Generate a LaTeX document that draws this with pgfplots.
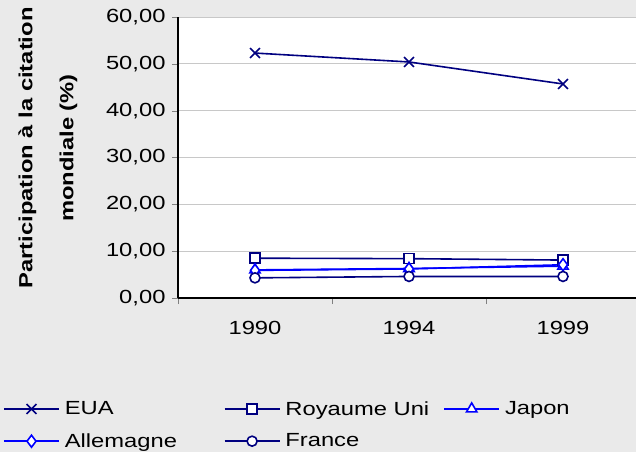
\documentclass[border=0pt]{standalone}
\usepackage{pgfplots}
\pgfplotsset{compat=1.18}
\usepackage{fontspec}
\setmainfont[FakeStretch=1.25]{Liberation Sans}
\definecolor{bg}{HTML}{EAEAEA}
\definecolor{navy}{HTML}{000080}
\definecolor{pure}{HTML}{0000FF}
\definecolor{gridc}{HTML}{C8C8C8}
\begin{document}
\begin{tikzpicture}[x=1pt,y=1pt]
\fill[bg] (0,0) rectangle (636,452);
\begin{axis}[
    at={(178pt,154pt)}, anchor=south west,
    scale only axis,
    width=462pt, height=281pt,
    xmin=-0.5, xmax=2.5,
    ymin=0, ymax=60,
    xtick={0,1,2},
    xticklabels={1990,1994,1999},
    minor xtick={-0.5,0.5,1.5,2.5},
    major x tick style={draw=none},
    ytick={0,10,20,30,40,50,60},
    tick align=outside,
    major tick length=6pt, minor tick length=6pt,
    axis lines*=left,
    axis line style={-, black, line width=1.2pt},
    ymajorgrids,
    grid style={gridc, line width=0.8pt},
    axis background/.style={fill=white},
    font=\fontsize{19}{21}\selectfont,
    ticklabel style={font=\fontsize{19}{21}\selectfont},
    yticklabel style={xshift=-3pt,
        /pgf/number format/fixed, /pgf/number format/fixed zerofill,
        /pgf/number format/precision=2, /pgf/number format/use comma,
        /pgf/number format/assume math mode=true},
    xticklabel style={yshift=-14pt},
    clip=false,
    legend columns=3,
    legend cell align=left,
    legend style={at={(-175pt,-151pt)}, anchor=south west, draw=none, fill=none,
        font=\fontsize{19}{21}\selectfont, inner sep=0pt,
        nodes={inner sep=0pt},
        column sep=0pt, row sep=17pt,
        /tikz/every odd column/.append style={column sep=5pt}},
    legend image code/.code={\draw[mark repeat=2, mark phase=2] plot coordinates {(0pt,0pt) (27.5pt,0pt) (55pt,0pt)};},
    every axis plot/.append style={line width=1.6pt},
]
\addplot[navy, mark=x, mark size=7pt, mark options={line width=1.6pt}]
    coordinates {(0,52.3) (1,50.4) (2,45.7)};
\addlegendentry{\makebox[159pt][l]{EUA}}
\addplot[navy, mark=square*, mark size=5pt, mark options={fill=white, line width=1.6pt}]
    coordinates {(0,8.5) (1,8.4) (2,8.1)};
\addlegendentry{\makebox[158pt][l]{Royaume Uni}}
\addplot[pure, mark=triangle*, mark size=6pt, mark options={fill=white, line width=1.6pt}]
    coordinates {(0,6.0) (1,6.3) (2,6.8)};
\addlegendentry{Japon}
\addplot[pure, mark=diamond*, mark size=6pt, mark options={fill=white, line width=1.6pt}]
    coordinates {(0,5.9) (1,6.2) (2,7.1)};
\addlegendentry{\makebox[159pt][l]{Allemagne}}
\addplot[navy, mark=*, mark size=5pt, mark options={fill=white, line width=1.6pt}]
    coordinates {(0,4.3) (1,4.6) (2,4.6)};
\addlegendentry{France}
\end{axis}
\node[rotate=90, align=center, font=\fontsize{19}{41}\selectfont\bfseries] at (48,304)
    {Participation à la citation\\mondiale (\%)};
\pgfresetboundingbox
\useasboundingbox (0,0) rectangle (636,452);
\end{tikzpicture}
\end{document}
